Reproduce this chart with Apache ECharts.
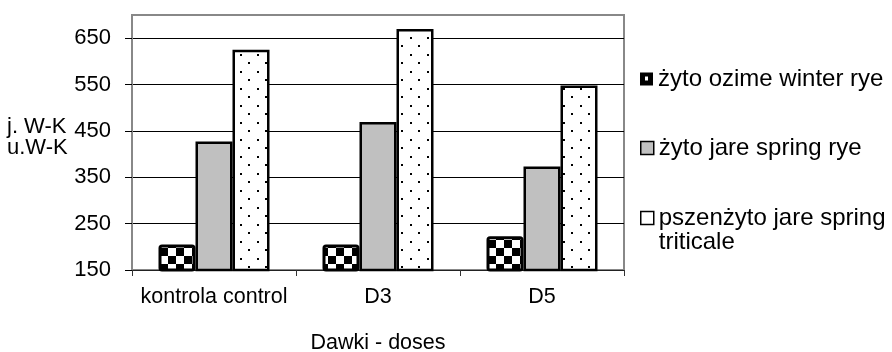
<!DOCTYPE html>
<html>
<head>
<meta charset="utf-8">
<script src="https://cdn.jsdelivr.net/npm/echarts@6/dist/echarts.min.js"></script>
<style>
  html, body { margin: 0; padding: 0; background: #fff; }
  #chart { width: 892px; height: 352px; }
</style>
</head>
<body>
<div id="chart"></div>
<script>
// Doses and yields per crop
const categories = ['kontrola control', 'D3', 'D5'];
const seriesNames = ['żyto ozime winter rye', 'żyto jare spring rye', 'pszenżyto jare spring triticale'];
const winterRye = [205, 205, 223];
const springRye = [427, 469, 373];
const springTriticale = [625, 670, 548];
const yTicks = [150, 250, 350, 450, 550, 650];

const FONT = '"Liberation Sans", Arial, sans-serif';

// Checkerboard fill for the first series
function checkerPattern() {
  const c = document.createElement('canvas');
  c.width = 16; c.height = 16;
  const g = c.getContext('2d');
  g.fillStyle = '#000'; g.fillRect(0, 0, 16, 16);
  g.fillStyle = '#fff';
  g.fillRect(0, 0, 8, 8);
  g.fillRect(8, 8, 8, 8);
  return c;
}
// Sparse dot fill for the third series
function dotPattern() {
  const c = document.createElement('canvas');
  c.width = 17; c.height = 17;
  const g = c.getContext('2d');
  g.fillStyle = '#fff'; g.fillRect(0, 0, 17, 17);
  g.fillStyle = '#000';
  g.fillRect(2, 3, 2, 2);
  g.fillRect(10, 11, 2, 2);
  return c;
}

const chart = echarts.init(document.getElementById('chart'), null, { renderer: 'canvas' });

const barBase = { type: 'bar', barWidth: 37, barGap: '0%' };

const legendText = { fontFamily: FONT, fontSize: 24, color: '#000', lineHeight: 24 };

chart.setOption({
  animation: false,
  backgroundColor: '#fff',
  textStyle: { fontFamily: FONT },
  grid: {
    left: 132, right: 268, top: 15, bottom: 82,
    outerBoundsMode: 'none',
    containLabel: false,
    show: true, borderColor: '#888', borderWidth: 2, backgroundColor: 'transparent'
  },
  xAxis: {
    type: 'category',
    data: categories,
    boundaryGap: true,
    axisLine: { show: true, lineStyle: { color: '#222', width: 1 } },
    axisTick: { show: true, length: 6, lineStyle: { color: '#333' } },
    axisLabel: { fontFamily: FONT, fontSize: 21.5, color: '#000', margin: 16, interval: 0 },
    name: 'Dawki - doses',
    nameLocation: 'middle',
    nameGap: 62,
    nameTextStyle: { fontFamily: FONT, fontSize: 21.5, color: '#000' }
  },
  yAxis: {
    type: 'value',
    min: 150,
    max: 700,
    interval: 100,
    axisLine: { show: true, lineStyle: { color: '#888', width: 2 } },
    axisTick: { show: true, length: 7, lineStyle: { color: '#000' } },
    axisLabel: {
      fontFamily: FONT, fontSize: 22, color: '#000', margin: 21,
      showMaxLabel: false,
      formatter: v => (yTicks.indexOf(v) >= 0 ? String(v) : '')
    },
    splitLine: {
      show: true,
      lineStyle: { color: ['#000', '#000', '#000', '#000', '#000', '#000', '#888'], width: 1 }
    }
  },
  legend: [
    {
      left: 640, top: 67, padding: 0, orient: 'vertical',
      itemWidth: 13, itemHeight: 13,
      data: [{
        name: seriesNames[0],
        icon: 'path://M0,0H13V13H0Z M5,4V8H8V4Z',
        itemStyle: { color: '#000', borderWidth: 0 }
      }],
      textStyle: legendText
    },
    {
      left: 640, top: 136, padding: 0, orient: 'vertical',
      itemWidth: 13, itemHeight: 13,
      data: [{
        name: seriesNames[1], icon: 'rect',
        itemStyle: { color: '#c0c0c0', borderColor: '#000', borderWidth: 1.5 }
      }],
      textStyle: legendText
    },
    {
      left: 640, top: 182, padding: 0, orient: 'vertical',
      itemWidth: 13, itemHeight: 13,
      data: [{
        name: seriesNames[2], icon: 'rect',
        itemStyle: { color: '#fff', borderColor: '#000', borderWidth: 1.5 }
      }],
      // empty first line keeps the icon level with the first line of text
      formatter: () => '{gap| }\npszenżyto jare spring\ntriticale',
      textStyle: Object.assign({}, legendText, {
        rich: { gap: { fontFamily: FONT, fontSize: 24, lineHeight: 24 } }
      })
    }
  ],
  series: [
    Object.assign({}, barBase, {
      name: seriesNames[0],
      data: winterRye,
      itemStyle: {
        color: { image: checkerPattern(), repeat: 'repeat' },
        borderColor: '#000', borderWidth: 3, borderRadius: 2
      }
    }),
    Object.assign({}, barBase, {
      name: seriesNames[1],
      data: springRye,
      itemStyle: { color: '#c0c0c0', borderColor: '#000', borderWidth: 2.5 }
    }),
    Object.assign({}, barBase, {
      name: seriesNames[2],
      data: springTriticale,
      itemStyle: {
        color: { image: dotPattern(), repeat: 'repeat' },
        borderColor: '#000', borderWidth: 2.5
      }
    })
  ],
  graphic: [
    {
      type: 'text',
      left: 7, top: 116,
      style: {
        text: 'j. W-K\nu.W-K',
        fontFamily: FONT, fontSize: 22, lineHeight: 21, fill: '#000'
      }
    }
  ]
});
</script>
</body>
</html>
